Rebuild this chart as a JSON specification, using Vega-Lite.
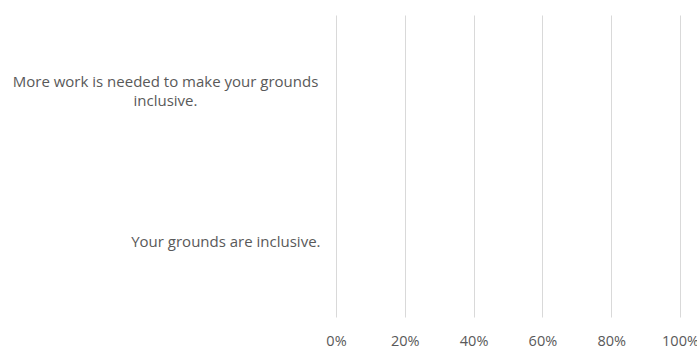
{
  "$schema": "https://vega.github.io/schema/vega-lite/v6.json",
  "width": 344,
  "height": 302,
  "autosize": {"type": "none"},
  "padding": {"left": 336, "top": 15, "right": 17, "bottom": 37},
  "background": "white",
  "config": {"view": {"stroke": null}, "font": "Open Sans"},
  "data": {"values": [
    {"statement": "More work is needed to make your grounds inclusive.", "share": 0},
    {"statement": "Your grounds are inclusive.", "share": 0}
  ]},
  "mark": {"type": "bar", "color": "#4472c4"},
  "encoding": {
    "y": {
      "field": "statement", "type": "nominal", "sort": null, "title": null,
      "axis": {
        "domain": false, "ticks": false, "grid": false,
        "labelFontSize": 15, "labelColor": "#595959",
        "labelPadding": {"condition": {"test": "datum.value == 'More work is needed to make your grounds inclusive.'", "value": 171}, "value": 16},
        "labelOffset": {"condition": {"test": "datum.value == 'More work is needed to make your grounds inclusive.'", "value": -9}, "value": 0},
        "labelLimit": 400, "labelLineHeight": 19,
        "labelAlign": {"condition": {"test": "datum.value == 'More work is needed to make your grounds inclusive.'", "value": "center"}, "value": "right"},
        "labelExpr": "datum.value == 'More work is needed to make your grounds inclusive.' ? ['More work is needed to make your grounds', 'inclusive.'] : datum.value"
      }
    },
    "x": {
      "field": "share", "type": "quantitative", "title": null,
      "scale": {"domain": [0, 1]},
      "axis": {
        "format": ".0%", "values": [0, 0.2, 0.4, 0.6, 0.8, 1],
        "domain": false, "ticks": false,
        "gridColor": "#d9d9d9", "gridWidth": 1,
        "labelFontSize": 14.5, "labelColor": "#595959", "labelPadding": 17,
        "labelFlush": false
      }
    }
  }
}
